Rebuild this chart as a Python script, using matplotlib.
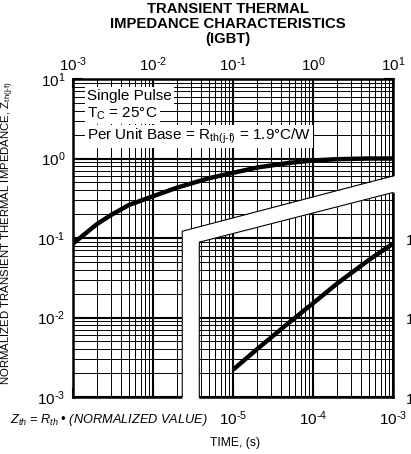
import matplotlib
matplotlib.use("Agg")
import matplotlib.pyplot as plt
import numpy as np
from matplotlib.patches import Polygon
from matplotlib.ticker import FixedLocator, FuncFormatter, LogLocator, NullFormatter

plt.rcParams["font.family"] = ["Liberation Sans", "DejaVu Sans"]
plt.rcParams["mathtext.fontset"] = "custom"
plt.rcParams["mathtext.rm"] = "Liberation Sans"
plt.rcParams["mathtext.it"] = "Liberation Sans:italic"
plt.rcParams["mathtext.bf"] = "Liberation Sans:bold"

# upper curve, read against the top time axis (s)
time_long = [1e-3, 2e-3, 3e-3, 5e-3, 1e-2, 2e-2, 5e-2, 1e-1, 2e-1, 5e-1, 1, 2, 5, 10]
zth_long = [0.085, 0.15, 0.195, 0.26, 0.335, 0.43, 0.565, 0.66, 0.77, 0.88, 0.945, 0.98, 1.0, 1.0]

# lower curve, read against the bottom time axis (s)
time_short = [1e-5, 2e-5, 5e-5, 1e-4, 2e-4, 5e-4, 1e-3]
zth_short = [0.0022, 0.0040, 0.0086, 0.0151, 0.0267, 0.053, 0.085]

top_ticks = [1e-3, 1e-2, 1e-1, 1e0, 1e1]
bottom_ticks = [1e-5, 1e-4, 1e-3]
y_ticks = [1e-3, 1e-2, 1e-1, 1e0, 1e1]
right_ticks = [1e-3, 1e-2, 1e-1]

# axis break (in top-axis coordinates)
brk_outer_x, brk_inner_x = 0.0232, 0.0379
brk_outer_y = (0.1216, 0.604)
brk_inner_y = (0.0886, 0.3736)


def pow10(v, pos=None):
    e = int(round(np.log10(v)))
    if e < 0:
        return r"$10^{\text{-}%d}$" % -e
    return r"$10^{%d}$" % e


fig = plt.figure(figsize=(4.11, 4.54), dpi=100)
ax = fig.add_axes([73 / 411, 57 / 454, 320 / 411, 318 / 454])

ax.set_xscale("log")
ax.set_yscale("log")
ax.set_xlim(1e-7, 1e-3)
ax.set_ylim(1e-3, 1e1)

ax.xaxis.set_major_locator(FixedLocator([1e-7, 1e-6] + bottom_ticks))
ax.xaxis.set_major_formatter(FuncFormatter(lambda v, p: pow10(v) if v >= 9e-6 else ""))
ax.xaxis.set_minor_locator(LogLocator(base=10, subs=np.arange(2, 10)))
ax.xaxis.set_minor_formatter(NullFormatter())
ax.yaxis.set_major_locator(FixedLocator(y_ticks))
ax.yaxis.set_major_formatter(FuncFormatter(pow10))
ax.yaxis.set_minor_locator(LogLocator(base=10, subs=np.arange(2, 10)))
ax.yaxis.set_minor_formatter(NullFormatter())

ax.grid(True, which="major", color="black", lw=1.5)
ax.grid(True, which="minor", color="black", lw=0.7)
ax.tick_params(which="major", direction="in", length=6.5, width=1.5, labelsize=11,
               top=False, right=True)
ax.tick_params(axis="x", which="major", pad=9)
ax.tick_params(axis="y", which="major", pad=5.5)
ax.tick_params(which="minor", length=0)
for s in ax.spines.values():
    s.set_linewidth(1.8)

ax.plot(time_short, zth_short, color="black", lw=3.2, solid_capstyle="butt", zorder=5)

# top time axis for the long-pulse curve
axt = ax.twiny()
axt.set_xscale("log")
axt.set_xlim(1e-3, 1e1)
axt.xaxis.set_major_locator(FixedLocator(top_ticks))
axt.xaxis.set_major_formatter(FuncFormatter(pow10))
axt.xaxis.set_minor_locator(FixedLocator([]))
axt.tick_params(axis="x", direction="in", length=6.5, width=1.5, labelsize=11, pad=3.5)
for s in axt.spines.values():
    s.set_visible(False)

axt.plot(time_long, zth_long, color="black", lw=3.2, solid_capstyle="butt", zorder=5)

# white break band between the two time scales
band = Polygon([(brk_outer_x, 8e-4), (brk_outer_x, brk_outer_y[0]), (10.8, brk_outer_y[1]),
                (10.8, brk_inner_y[1]), (brk_inner_x, brk_inner_y[0]), (brk_inner_x, 8e-4)],
               closed=True, facecolor="white", edgecolor="none", clip_on=False, zorder=3)
axt.add_patch(band)
axt.plot([brk_outer_x, brk_outer_x, 10], [1e-3, brk_outer_y[0], brk_outer_y[1]],
         color="black", lw=0.8, zorder=4, clip_on=False)
axt.plot([brk_inner_x, brk_inner_x, 10], [1e-3, brk_inner_y[0], brk_inner_y[1]],
         color="black", lw=0.8, zorder=4, clip_on=False)

# right-hand labels of the lower scale (cut by the figure edge, as in the original)
axr = ax.secondary_yaxis("right")
axr.yaxis.set_major_locator(FixedLocator(right_ticks))
axr.yaxis.set_major_formatter(FuncFormatter(pow10))
axr.yaxis.set_minor_locator(FixedLocator([]))
axr.tick_params(length=0, labelsize=11, pad=8.5)
axr.spines["right"].set_visible(False)

box = dict(facecolor="white", edgecolor="none", pad=1.5)
axt.text(0.044, 0.947, "Single Pulse", transform=axt.transAxes, fontsize=11,
         va="center", ha="left", bbox=box, zorder=6)
axt.text(0.044, 0.8915, r"T$_{\mathregular{C}}$ = 25°C", transform=axt.transAxes, fontsize=11,
         va="center", ha="left", bbox=box, zorder=6)
axt.text(0.044, 0.819, r"Per Unit Base = R$_{\mathregular{th(j\text{-}f)}}$ = 1.9°C/W",
         transform=axt.transAxes, fontsize=11, va="center", ha="left", bbox=box, zorder=6)

fig.text(228 / 411, 1 - 2 / 454, "TRANSIENT THERMAL\nIMPEDANCE CHARACTERISTICS\n(IGBT)",
         ha="center", va="top", fontsize=10.7, fontweight="bold", linespacing=1.08)
fig.text(8 / 411, 1 - 233 / 454,
         r"NORMALIZED TRANSIENT THERMAL IMPEDANCE, Z$_{\mathregular{th(j\text{-}f)}}$",
         rotation=90, ha="center", va="center", fontsize=8.2)
fig.text(10 / 411, 1 - 420 / 454, r"$Z_{th}$ = $R_{th}$ • (NORMALIZED VALUE)",
         ha="left", va="center", fontsize=9.2, style="italic")
fig.text(235 / 411, 1 - 443 / 454, "TIME, (s)", ha="center", va="center", fontsize=8.7)

fig.savefig("out.png", dpi=100)
